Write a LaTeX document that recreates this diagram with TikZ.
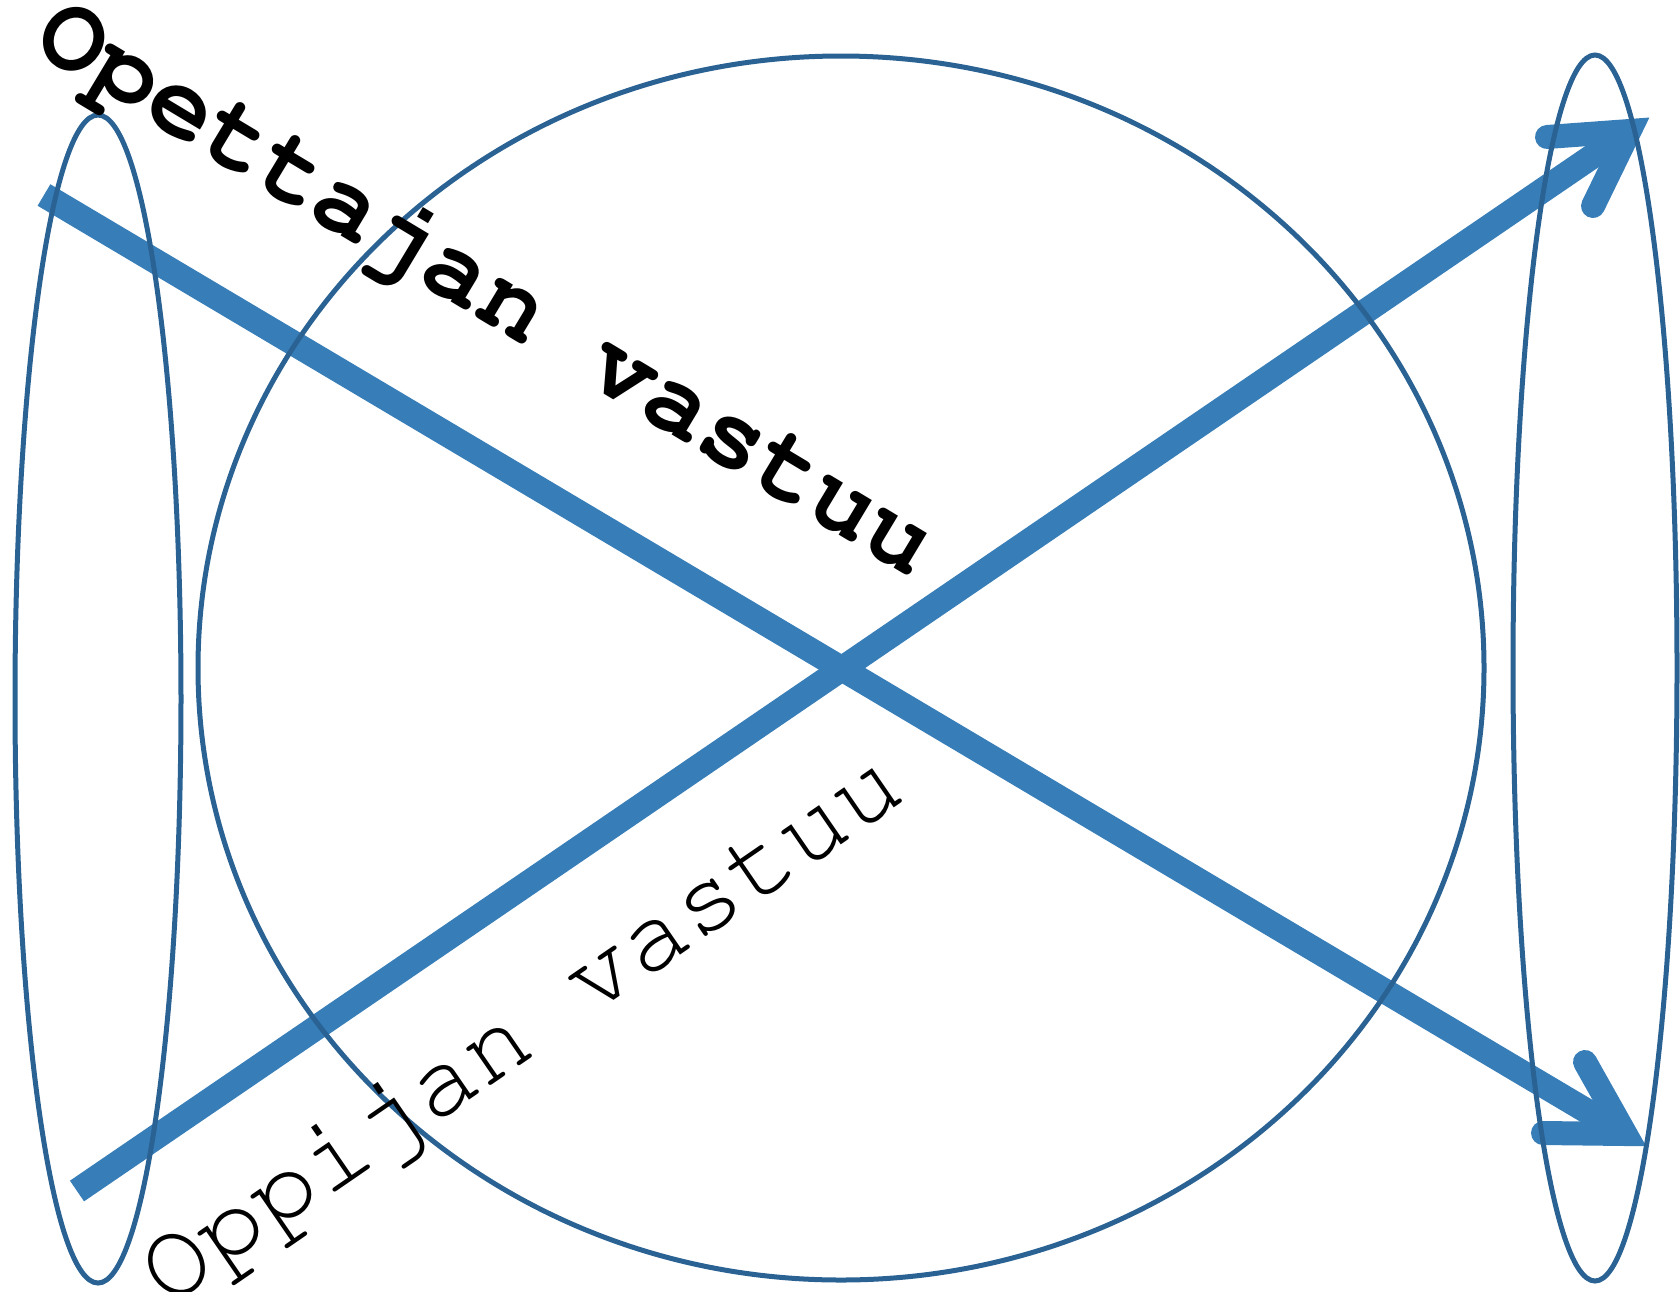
\documentclass[tikz,border=0pt]{standalone}
\usepackage[T1,TU]{fontenc}
\newcommand\courfont{\fontencoding{T1}\fontfamily{pcr}\selectfont}
\begin{document}
\begin{tikzpicture}[x=1pt,y=-1pt]
\definecolor{arrowblue}{HTML}{377EB8}
\definecolor{ringblue}{HTML}{2A6294}
\tikzset{
  shaft/.style={draw=arrowblue, line width=25pt, line cap=butt},
  barbs/.style={draw=arrowblue, line width=24pt, line cap=round, line join=miter, miter limit=10},
  ring/.style={draw=ringblue, line width=5pt},
  labeltext/.style={inner sep=0pt, anchor=base, font=\courfont\fontsize{107}{120}\selectfont}
}
\useasboundingbox (0,0) rectangle (1680,1291);
% arrow 1 (top-left to bottom-right)
\coordinate (a1s) at (44,195);
\coordinate (a1v) at (1625.5,1134);
\coordinate (a1b1) at (1543,1133);
\coordinate (a1b2) at (1585,1062);
% arrow 2 (bottom-left to top-right)
\coordinate (a2s) at (77,1191);
\coordinate (a2v) at (1629.5,131);
\coordinate (a2b1) at (1547,137);
\coordinate (a2b2) at (1593,206);
\draw[shaft] (a1s) -- (a1v);
\draw[barbs] (a1b1) -- (a1v) -- (a1b2);
\draw[shaft] (a2s) -- (a2v);
\draw[barbs] (a2b1) -- (a2v) -- (a2b2);
% ellipses
\draw[ring] (841,668) ellipse [x radius=643, y radius=612];
\draw[ring] (98,699) ellipse [x radius=83, y radius=584];
\draw[ring] (1595,668) ellipse [x radius=82, y radius=613];
% labels
\node[labeltext, rotate=-31] (t1) at (471,314) {\bfseries Opettajan vastuu};
\node[labeltext, rotate=34.5] (t2) at (538,1053) {Oppijan vastuu};
\end{tikzpicture}
\end{document}
